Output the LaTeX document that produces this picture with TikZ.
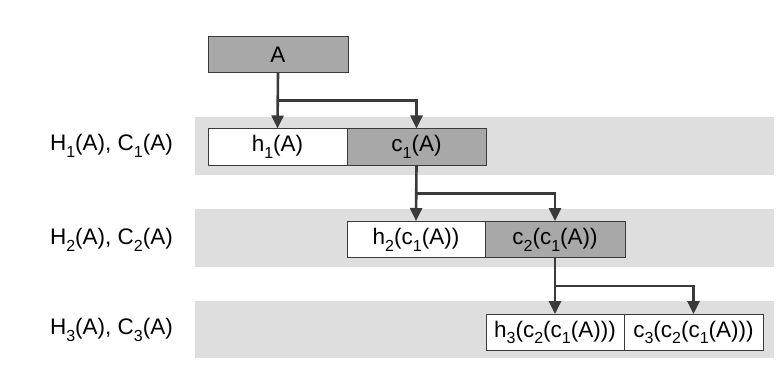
\documentclass[tikz,border=0pt]{standalone}
\usepackage{fontspec}
\setmainfont{Liberation Sans}
\usetikzlibrary{arrows.meta,calc}
\definecolor{bandgray}{HTML}{DEDEDE}
\definecolor{boxgray}{HTML}{A8A8A8}
\definecolor{ink}{HTML}{3A3A3A}
% lowered index digit used in h_i, c_i, H_i, C_i
\newcommand{\idx}[1]{\raisebox{-0.3em}{\fontsize{16}{16}\selectfont #1}}
\begin{document}
\begin{tikzpicture}[x=1pt,y=-1pt,
  font=\fontsize{22.5}{26}\selectfont,
  box/.style={draw=ink, line width=1pt, minimum height=36pt, inner sep=0pt, anchor=center},
  litbox/.style={box, fill=white},
  darkbox/.style={box, fill=boxgray},
  arr/.style={draw=ink, line width=2.6pt, -{Triangle[width=12pt,length=13pt]}},
  band/.style={fill=bandgray, draw=none},
  rowlabel/.style={anchor=east, inner sep=0pt}]
\useasboundingbox (0,0) rectangle (779,385);
\fill[white] (0,0) rectangle (779,385);

% level bands
\path[band] (195,117) rectangle (774,175);
\path[band] (195,209) rectangle (774,267);
\path[band] (195,301) rectangle (774,358);

% level labels
\node[rowlabel] (L1) at (173,146) {H\idx{1}(A), C\idx{1}(A)};
\node[rowlabel] (L2) at (173,240) {H\idx{2}(A), C\idx{2}(A)};
\node[rowlabel] (L3) at (173,330) {H\idx{3}(A), C\idx{3}(A)};

% input
\node[darkbox, minimum width=140pt] (A) at (278,54.5) {A};

% level 1
\node[litbox, minimum width=139pt] (h1) at (277.5,147) {h\idx{1}(A)};
\node[darkbox, minimum width=139pt] (c1) at (416.5,147) {c\idx{1}(A)};

% level 2
\node[litbox, minimum width=138pt] (h2) at (416,239.5) {h\idx{2}(c\idx{1}(A))};
\node[darkbox, minimum width=140pt] (c2) at (555,239.5) {c\idx{2}(c\idx{1}(A))};

% level 3
\node[litbox, minimum width=138pt] (h3) at (555,332.5) {h\idx{3}(c\idx{2}(c\idx{1}(A)))};
\node[litbox, minimum width=139pt] (c3) at (693.5,332.5) {c\idx{3}(c\idx{2}(c\idx{1}(A)))};

% branching connectors
\coordinate (b1) at ($(A.south)!0.5!(h1.north)$);
\draw[arr] (A.south) -- (h1.north);
\draw[arr] (b1) -| (c1.north);

\coordinate (b2) at ($(c1.south)!0.5!(h2.north)$);
\draw[arr] (c1.south) -- (h2.north);
\draw[arr] (b2) -| (c2.north);

\coordinate (b3) at ($(c2.south)!0.5!(h3.north)$);
\draw[arr] (c2.south) -- (h3.north);
\draw[arr] (b3) -| (c3.north);
\end{tikzpicture}
\end{document}
